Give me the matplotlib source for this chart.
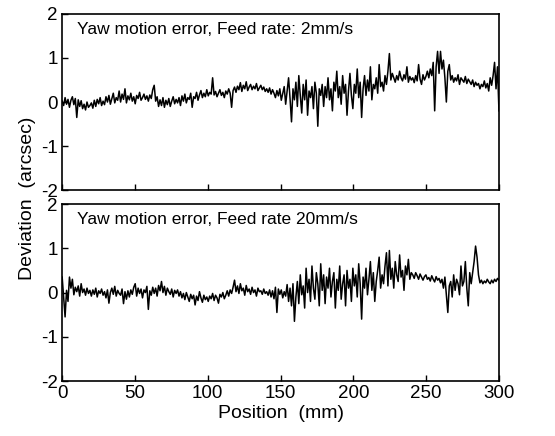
import matplotlib
matplotlib.use("Agg")
import matplotlib.pyplot as plt
import numpy as np

plt.rcParams['font.family'] = ['Liberation Sans', 'DejaVu Sans']
plt.rcParams['axes.unicode_minus'] = False

# yaw deviation (arcsec), sampled every 1 mm from 0 to 300 mm
yaw_2mm = [
    0.02, -0.08, 0.10, -0.05, 0.06, -0.12, 0.04, 0.12, -0.06, 0.08, -0.35, 0.05, -0.10, 0.03, -0.15, -0.05, -0.18, 0.00, -0.12, -0.08,
    -0.02, -0.14, 0.04, -0.10, 0.06, -0.04, 0.10, -0.08, 0.02, -0.06, 0.12, 0.00, 0.15, -0.05, 0.08, 0.20, -0.02, 0.10, 0.04, 0.25,
    0.00, 0.18, 0.06, 0.30, -0.02, 0.14, 0.05, 0.20, 0.02, 0.12, -0.04, 0.15, 0.08, 0.22, 0.04, 0.10, 0.18, 0.06, 0.14, 0.02,
    0.16, 0.08, 0.28, 0.38, 0.02, 0.12, -0.10, 0.05, -0.08, 0.10, -0.12, 0.04, -0.06, 0.08, -0.10, 0.02, 0.12, -0.04, 0.06, -0.02,
    0.10, -0.08, 0.14, 0.02, 0.18, -0.02, 0.10, 0.06, 0.20, -0.12, 0.12, 0.08, 0.22, 0.04, 0.16, 0.26, 0.10, 0.20, 0.12, 0.28,
    0.14, 0.22, 0.18, 0.55, 0.16, 0.24, 0.12, 0.20, 0.28, 0.15, 0.22, 0.10, 0.25, 0.18, 0.30, 0.20, -0.12, 0.26, 0.34, 0.22,
    0.36, 0.28, 0.44, 0.24, 0.38, 0.30, 0.46, 0.26, 0.34, 0.40, 0.28, 0.36, 0.30, 0.42, 0.26, 0.32, 0.38, 0.28, 0.34, 0.24,
    0.30, 0.22, 0.32, 0.18, 0.28, 0.20, 0.10, 0.26, 0.14, 0.30, 0.04, 0.20, 0.35, -0.05, 0.25, 0.55, 0.08, -0.45, 0.30, 0.05,
    0.45, -0.10, 0.60, 0.15, -0.25, 0.40, 0.05, 0.50, -0.30, 0.25, 0.10, 0.35, -0.15, 0.45, 0.20, -0.55, 0.30, 0.15, 0.40, -0.10,
    0.35, 0.10, 0.55, 0.05, 0.30, -0.20, 0.45, 0.25, 0.70, 0.10, 0.35, -0.05, 0.60, 0.20, 0.40, -0.30, 0.25, 0.65, 0.15, -0.15,
    0.40, 0.20, 0.75, 0.10, 0.45, -0.35, 0.30, 0.60, 0.15, 0.50, 0.25, 0.80, 0.05, 0.40, 0.30, 0.55, 0.20, 0.85, 0.35, 0.45,
    0.25, 0.60, 0.40, 0.70, 1.10, 0.50, 0.65, 0.55, 0.45, 0.60, 0.50, 0.70, 0.55, 0.48, 0.62, 0.52, 0.80, 0.45, 0.58, 0.50,
    0.55, 0.44, 0.60, 0.48, 0.85, 0.52, 0.40, 0.62, 0.50, 0.58, 0.70, 0.55, 0.75, 0.60, 0.90, -0.20, 0.80, 1.15, 0.65, 1.15,
    0.75, 0.95, 0.55, 0.00, 0.70, 0.85, 0.50, 0.60, 0.45, 0.55, 0.48, 0.62, 0.40, 0.55, 0.50, 0.45, 0.58, 0.42, 0.52, 0.46,
    0.40, 0.50, 0.35, 0.45, 0.38, 0.42, 0.30, 0.40, 0.35, 0.48, 0.32, 0.42, 0.25, 0.55, 0.38, 0.60, 0.90, 0.30, 0.80, -0.20,
]

yaw_20mm = [
    0.35, -0.10, -0.55, 0.05, -0.20, 0.35, 0.10, 0.30, -0.05, 0.12, 0.02, 0.15, -0.08, 0.20, 0.00, 0.08, -0.06, 0.10, -0.02, 0.05,
    -0.08, 0.06, -0.04, 0.10, -0.10, 0.04, -0.02, 0.08, -0.06, 0.02, -0.12, 0.06, -0.24, 0.00, 0.10, -0.04, 0.14, -0.08, 0.05, -0.02,
    -0.06, 0.08, -0.25, 0.02, -0.15, 0.04, -0.10, 0.06, -0.04, 0.12, 0.20, -0.08, 0.10, -0.02, 0.08, -0.12, 0.06, 0.00, 0.14, -0.38,
    0.04, -0.06, 0.12, -0.02, 0.10, -0.08, 0.16, 0.04, 0.25, 0.00, 0.14, -0.06, 0.10, 0.02, -0.04, 0.08, -0.10, 0.05, -0.02, 0.06,
    -0.08, 0.02, -0.12, -0.02, -0.16, 0.00, -0.10, -0.20, -0.04, -0.14, -0.06, -0.28, -0.08, -0.18, 0.02, -0.12, -0.22, -0.06, -0.16, -0.10,
    -0.20, -0.08, -0.14, -0.02, -0.18, -0.06, -0.12, -0.24, -0.04, -0.10, 0.00, -0.14, -0.06, 0.04, -0.08, 0.06, -0.02, 0.12, 0.28, 0.02,
    0.15, -0.02, 0.20, 0.04, 0.10, -0.06, 0.16, 0.02, 0.08, -0.04, 0.12, 0.00, 0.06, -0.08, 0.10, 0.02, 0.04, -0.04, 0.08, -0.02,
    0.02, -0.06, 0.06, -0.10, 0.04, -0.14, 0.12, -0.45, 0.08, -0.04, 0.06, -0.12, 0.02, -0.08, 0.18, -0.20, 0.10, -0.30, 0.20, -0.65,
    -0.10, 0.25, -0.25, 0.40, -0.05, 0.15, -0.35, 0.55, 0.00, 0.30, -0.20, 0.60, 0.10, -0.15, 0.45, 0.20, -0.30, 0.65, 0.05, 0.40,
    -0.25, 0.35, 0.10, 0.55, -0.10, 0.25, 0.45, -0.35, 0.30, 0.05, 0.60, -0.15, 0.20, 0.40, -0.30, 0.50, 0.10, 0.30, -0.20, 0.55,
    0.15, 0.40, -0.10, 0.65, 0.20, -0.60, 0.35, 0.10, 0.55, -0.05, 0.30, 0.70, 0.05, 0.45, -0.20, 0.25, 0.50, 0.80, 0.10, 0.40,
    0.20, 0.60, 0.90, 0.15, 0.95, 0.30, 0.55, 0.10, 0.70, 0.40, 0.25, 0.85, 0.35, 0.50, 0.05, 0.60, 0.40, 0.75, 0.30, 0.45,
    0.40, 0.32, 0.45, 0.38, 0.30, 0.42, 0.35, 0.28, 0.36, 0.40, 0.30, 0.34, 0.26, 0.38, 0.30, 0.24, 0.36, 0.28, 0.32, 0.22,
    0.30, 0.10, 0.35, -0.05, -0.45, 0.15, 0.25, -0.10, 0.40, 0.05, 0.30, 0.20, -0.05, 0.60, 0.15, 0.25, 0.70, 0.10, -0.30, 0.45,
    0.20, 0.45, 0.70, 1.05, 0.80, 0.40, 0.22, 0.28, 0.20, 0.26, 0.22, 0.30, 0.24, 0.20, 0.28, 0.22, 0.30, 0.25, 0.32, 0.28,
]

titles = ["Yaw motion error, Feed rate: 2mm/s", "Yaw motion error, Feed rate 20mm/s"]
x_ticks = [0, 50, 100, 150, 200, 250, 300]
y_ticks = [-2, -1, 0, 1, 2]

pos = np.linspace(0, 300, len(yaw_2mm))

fig = plt.figure(figsize=(5.55, 4.36), dpi=100)
ax1 = fig.add_axes([0.112, 0.564, 0.787, 0.404])
ax2 = fig.add_axes([0.112, 0.126, 0.787, 0.406])

for ax, y, title in zip([ax1, ax2], [yaw_2mm, yaw_20mm], titles):
    ax.plot(pos, y, color="black", lw=1.1)
    ax.set_xlim(0, 300)
    ax.set_ylim(-2, 2)
    ax.set_xticks(x_ticks)
    ax.set_yticks(y_ticks)
    ax.tick_params(direction="in", length=4, labelsize=13.5, width=1, pad=3)
    ax.text(0.034, 0.91, title, transform=ax.transAxes, fontsize=12.5, va="center")
    for s in ax.spines.values():
        s.set_linewidth(1.2)

ax1.tick_params(labelbottom=False)
ax2.set_xlabel("Position  (mm)", fontsize=14, labelpad=2)
fig.text(0.05, 0.546, "Deviation  (arcsec)", rotation=90, fontsize=14, ha="center", va="center")

plt.savefig("out.png", dpi=100)
